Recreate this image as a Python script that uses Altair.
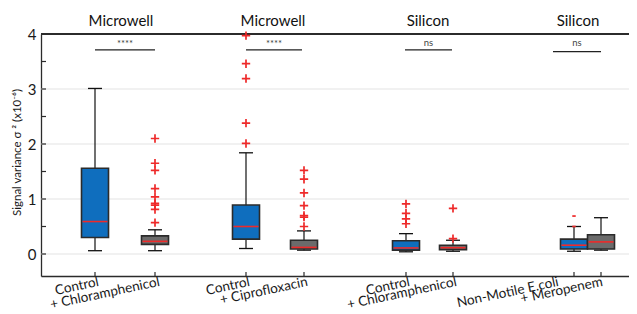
import altair as alt
import pandas as pd

# ---------------- data ----------------
tick_labels = ["Control", "+ Chloramphenicol", "Control", "+ Ciprofloxacin",
               "Control", "+ Chloramphenicol", "Non-Motile E.coli", "+ Meropenem"]
box_kind = ["control", "treated", "control", "treated",
            "control", "treated", "control", "treated"]
whisker_low = [0.06, 0.06, 0.10, 0.07, 0.04, 0.05, 0.05, 0.07]
q1 = [0.30, 0.175, 0.27, 0.09, 0.07, 0.08, 0.09, 0.09]
median = [0.59, 0.23, 0.50, 0.12, 0.11, 0.115, 0.16, 0.22]
q3 = [1.56, 0.33, 0.89, 0.25, 0.24, 0.16, 0.27, 0.35]
whisker_high = [3.01, 0.44, 1.84, 0.42, 0.37, 0.25, 0.50, 0.66]
outliers = [
    [],
    [2.10, 1.65, 1.52, 1.19, 1.04, 0.92, 0.89, 0.81, 0.57],
    [3.97, 3.46, 3.19, 2.38, 2.01],
    [1.52, 1.36, 1.11, 0.88, 0.70, 0.67, 0.50],
    [0.91, 0.74, 0.64, 0.55],
    [0.83, 0.28],
    [],
    [],
]
small_outliers = [[], [], [], [], [], [], [0.69, 0.50], []]

panel_titles = ["Microwell", "Microwell", "Silicon", "Silicon"]
sig_text = ["****", "****", "ns", "ns"]
sig_level = [3.71, 3.71, 3.71, 3.68]
sig_text_level = [3.82, 3.82, 3.84, 3.83]

# ---------------- layout ----------------
W, H = 588, 242
slot = [54, 114, 205, 263, 365, 412, 533, 560]
label_anchor = [56, 117, 207, 265, 367, 414, 516, 560]
title_slot = [80, 232, 387, 537]
sig_start = [54, 205, 364, 512]
sig_end = [114, 261, 411, 560]

FONT = "Lato"
BLUE = "#0F6EBE"
GRAY = "#6B6B6B"
RED = "#EE2A2A"
DARK = "#2B2B2B"

boxes = pd.DataFrame({
    "x": slot, "lx": label_anchor, "label": tick_labels, "kind": box_kind,
    "lo": whisker_low, "q1": q1, "med": median, "q3": q3, "hi": whisker_high,
})
out_rows = [{"x": slot[i], "v": v} for i, vals in enumerate(outliers) for v in vals]
outs = pd.DataFrame(out_rows)
small_rows = [{"x": slot[i], "v": v} for i, vals in enumerate(small_outliers) for v in vals]
smalls = pd.DataFrame(small_rows)
titles = pd.DataFrame({"x": title_slot, "t": panel_titles})
sig = pd.DataFrame({"x": sig_start, "x2": sig_end,
                    "xm": [(a + b) / 2 for a, b in zip(sig_start, sig_end)],
                    "y": sig_level, "ty": sig_text_level, "t": sig_text})
grid = pd.DataFrame({"v": [0, 1, 2, 3]})
yticks = pd.DataFrame({"v": [0, 0.5, 1, 1.5, 2, 2.5, 3, 3.5]})

xscale = alt.Scale(domain=[0, W], nice=False, zero=False)
yscale = alt.Scale(domain=[-0.4, 4], nice=False, zero=False)

xaxis = alt.Axis(values=slot, labels=False, grid=False, ticks=False,
                 domainColor=DARK, domainWidth=1.3, title=None)
yaxis = alt.Axis(values=[0, 1, 2, 3, 4], grid=False, ticks=False, labelPadding=5,
                 labelFontSize=15, labelFont=FONT, labelColor="#1a1a1a",
                 domainColor=DARK, domainWidth=1.3,
                 title="Signal variance σ ² (x10⁻⁶)", titleFont=FONT, titleFontSize=11.5,
                 titleFontWeight="normal", titleColor="#1a1a1a", titlePadding=5,
                 titleY=118)


def X(field="x"):
    return alt.X(f"{field}:Q", scale=xscale, axis=xaxis)


def Y(field):
    return alt.Y(f"{field}:Q", scale=yscale, axis=yaxis)


gridl = alt.Chart(grid).mark_rule(color="#ececec", strokeWidth=1.6).encode(
    y=Y("v"), x=alt.value(0), x2=alt.value(W))
topl = alt.Chart(grid).mark_rule(color=DARK, strokeWidth=1.3).encode(
    y=alt.value(0), x=alt.value(0), x2=alt.value(W))
ytk = alt.Chart(yticks).mark_rule(color=DARK, strokeWidth=1.2).encode(
    y=Y("v"), x=alt.value(0), x2=alt.value(5))
xtk = alt.Chart(boxes).mark_rule(color=DARK, strokeWidth=1.2).encode(
    x=X(), y=alt.value(H), y2=alt.value(H - 4))
xlab = alt.Chart(boxes).mark_text(font=FONT, fontSize=13.5, color="#1a1a1a", angle=348,
                                  align="right", baseline="top").encode(
    x=X("lx"), y=alt.value(H - 1), text="label:N")

base = alt.Chart(boxes)
whisk = base.mark_rule(color="#111", strokeWidth=1.2).encode(x=X(), y=Y("lo"), y2="hi:Q")
cap_lo = base.mark_rule(color="#111", strokeWidth=1.3, xOffset=-7, x2Offset=7).encode(
    x=X(), x2="x:Q", y=Y("lo"))
cap_hi = base.mark_rule(color="#111", strokeWidth=1.3, xOffset=-7, x2Offset=7).encode(
    x=X(), x2="x:Q", y=Y("hi"))
box = base.mark_rect(stroke=DARK, strokeWidth=1.6, xOffset=-13.5, x2Offset=13.5).encode(
    x=X(), x2="x:Q", y=Y("q1"), y2="q3:Q",
    fill=alt.Fill("kind:N", scale=alt.Scale(domain=["control", "treated"], range=[BLUE, GRAY]),
                  legend=None))
med = base.mark_rule(color=RED, strokeWidth=1.6, xOffset=-12.5, x2Offset=12.5).encode(
    x=X(), x2="x:Q", y=Y("med"))

plus = alt.Chart(outs).mark_point(shape="M-1,0L1,0M0,-1L0,1", size=70, color=RED,
                                  strokeWidth=1.7, filled=False, opacity=1).encode(
    x=X(), y=Y("v"))
dash = alt.Chart(smalls).mark_point(shape="M-1,0L1,0", size=12, color=RED,
                                    strokeWidth=1.7, filled=False, opacity=1).encode(
    x=X(), y=Y("v"))

ttl = alt.Chart(titles).mark_text(font=FONT, fontSize=15, color="#111", baseline="middle").encode(
    x=X(), y=alt.value(-13), text="t:N")
sigl = alt.Chart(sig).mark_rule(color="#222", strokeWidth=1.3).encode(
    x=X(), x2="x2:Q", y=Y("y"))
sigt = alt.Chart(sig).mark_text(font=FONT, fontSize=9.5, color="#444", baseline="middle").encode(
    x=X("xm"), y=Y("ty"), text="t:N")

chart = alt.layer(gridl, topl, ytk, xtk, whisk, cap_lo, cap_hi, box, med, plus, dash,
                  ttl, sigl, sigt, xlab).properties(
    width=W, height=H,
    autosize=alt.AutoSizeParams(type="none"),
    padding={"left": 33, "top": 26, "right": 0, "bottom": 40},
).configure_view(stroke=None).configure(background="white")

chart.save("out.html", embed_options={"renderer": "svg", "actions": False})
